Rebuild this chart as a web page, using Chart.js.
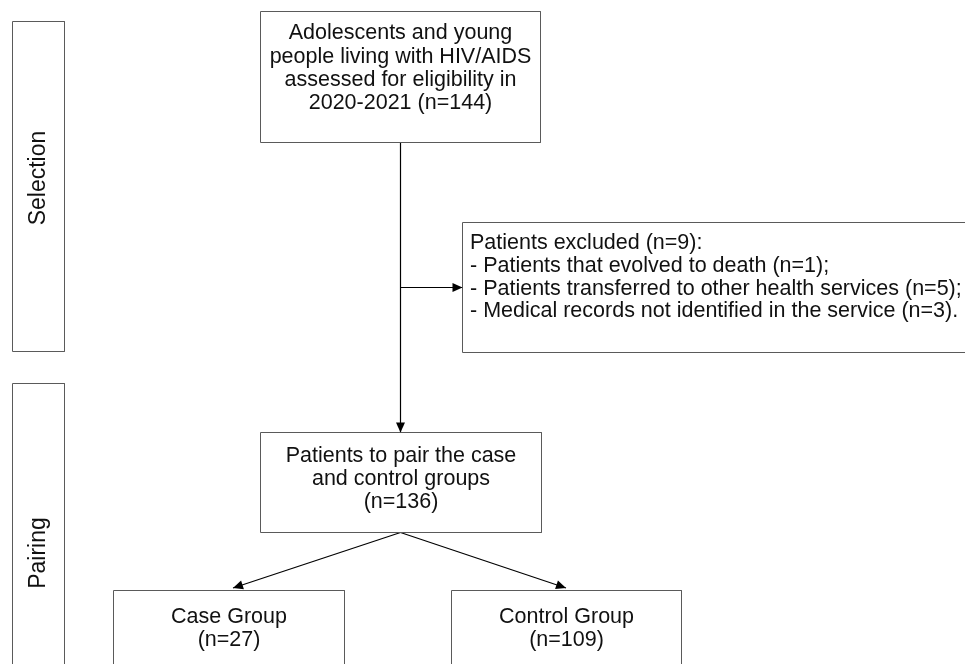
<!DOCTYPE html>
<html lang="en">

<head>
    <meta charset="UTF-8">
    <title>Study flowchart</title>
    <script src="https://cdn.jsdelivr.net/npm/chart.js"></script>
    <style>
        html, body { margin: 0; padding: 0; background: #fff; }
        canvas { display: block; }
    </style>
</head>

<body>
    <canvas id="flow" width="965" height="664"></canvas>

    <script>
        // Stage labels on the left side
        const stageLabels = ['Selection', 'Pairing'];

        // Text of each box in the flow
        const assessedText = ['Adolescents and young', 'people living with HIV/AIDS', 'assessed for eligibility in', '2020-2021 (n=144)'];
        const excludedText = ['Patients excluded (n=9):', '- Patients that evolved to death (n=1);',
            '- Patients transferred to other health services (n=5);', '- Medical records not identified in the service (n=3).'];
        const pairedText = ['Patients to pair the case', 'and control groups', '(n=136)'];
        const caseText = ['Case Group', '(n=27)'];
        const controlText = ['Control Group', '(n=109)'];

        // Layout of the boxes (x0, y0, x1, y1 in canvas units)
        const stageBoxes = [[12.5, 21.5, 64.5, 351.5], [12.5, 383.5, 64.5, 700]];
        const stageTextY = [178, 553];
        const nodes = [
            { box: [260.5, 11.5, 540.5, 142.5], lines: assessedText, firstY: 33.5, gap: 23.3, align: 'center' },
            { box: [462.5, 222.5, 990, 352.5], lines: excludedText, firstY: 243, gap: 22.8, align: 'left' },
            { box: [260.5, 432.5, 541.5, 532.5], lines: pairedText, firstY: 456, gap: 23, align: 'center' },
            { box: [113.5, 590.5, 344.5, 700], lines: caseText, firstY: 617.5, gap: 23, align: 'center' },
            { box: [451.5, 590.5, 681.5, 700], lines: controlText, firstY: 617.5, gap: 23, align: 'center' }
        ];

        // Connectors: [from, to, arrowhead?]
        const edges = [
            [[400.5, 142.5], [400.5, 432.5], true],
            [[400.5, 287.5], [462.5, 287.5], true],
            [[400.5, 532.5], [233, 588], true],
            [[400.5, 532.5], [566, 588], true]
        ];

        const FONT = '"Liberation Sans", Arial, Helvetica, sans-serif';

        function rectPoints(b) {
            return [{ x: b[0], y: b[1] }, { x: b[2], y: b[1] }, { x: b[2], y: b[3] }, { x: b[0], y: b[3] }, { x: b[0], y: b[1] }];
        }

        const datasets = [];
        stageBoxes.concat(nodes.map(n => n.box)).forEach(b => {
            datasets.push({
                data: rectPoints(b), showLine: true, pointRadius: 0,
                borderColor: '#5a5a5a', borderWidth: 1, fill: false, tension: 0
            });
        });
        edges.forEach(e => {
            datasets.push({
                data: [{ x: e[0][0], y: e[0][1] }, { x: e[1][0], y: e[1][1] }],
                showLine: true, pointRadius: 0, borderColor: '#000', borderWidth: 1.2, fill: false
            });
        });

        // Draws box texts, stage labels and arrowheads through the chart scales
        const flowPlugin = {
            id: 'flowText',
            afterDatasetsDraw(chart) {
                const ctx = chart.ctx;
                const xs = chart.scales.x, ys = chart.scales.y;
                const px = v => xs.getPixelForValue(v);
                const py = v => ys.getPixelForValue(v);
                ctx.save();
                ctx.fillStyle = '#111';
                ctx.textBaseline = 'middle';

                // node texts
                nodes.forEach(n => {
                    ctx.font = '21.5px ' + FONT;
                    ctx.textAlign = n.align;
                    const x = n.align === 'left' ? px(n.box[0] + 7.5) : px((n.box[0] + n.box[2]) / 2);
                    n.lines.forEach((t, i) => ctx.fillText(t, x, py(n.firstY + i * n.gap)));
                });

                // rotated stage labels
                stageLabels.forEach((t, i) => {
                    const b = stageBoxes[i];
                    ctx.save();
                    ctx.translate(px((b[0] + b[2]) / 2), py(stageTextY[i]));
                    ctx.rotate(-Math.PI / 2);
                    ctx.font = '23px ' + FONT;
                    ctx.textAlign = 'center';
                    ctx.fillText(t, 0, 0);
                    ctx.restore();
                });

                // arrowheads
                ctx.fillStyle = '#000';
                edges.forEach(e => {
                    if (!e[2]) return;
                    const x0 = px(e[0][0]), y0 = py(e[0][1]);
                    const x1 = px(e[1][0]), y1 = py(e[1][1]);
                    const a = Math.atan2(y1 - y0, x1 - x0);
                    const len = 10, half = 4.5;
                    ctx.beginPath();
                    ctx.moveTo(x1, y1);
                    ctx.lineTo(x1 - len * Math.cos(a) + half * Math.sin(a), y1 - len * Math.sin(a) - half * Math.cos(a));
                    ctx.lineTo(x1 - len * Math.cos(a) - half * Math.sin(a), y1 - len * Math.sin(a) + half * Math.cos(a));
                    ctx.closePath();
                    ctx.fill();
                });
                ctx.restore();
            }
        };

        new Chart(document.getElementById('flow').getContext('2d'), {
            type: 'scatter',
            data: { datasets: datasets },
            options: {
                responsive: false,
                animation: false,
                layout: { padding: 0 },
                plugins: { legend: { display: false }, tooltip: { enabled: false } },
                scales: {
                    x: { type: 'linear', min: 0, max: 965, display: false },
                    y: { type: 'linear', min: 0, max: 664, reverse: true, display: false }
                }
            },
            plugins: [flowPlugin]
        });
    </script>
</body>

</html>
